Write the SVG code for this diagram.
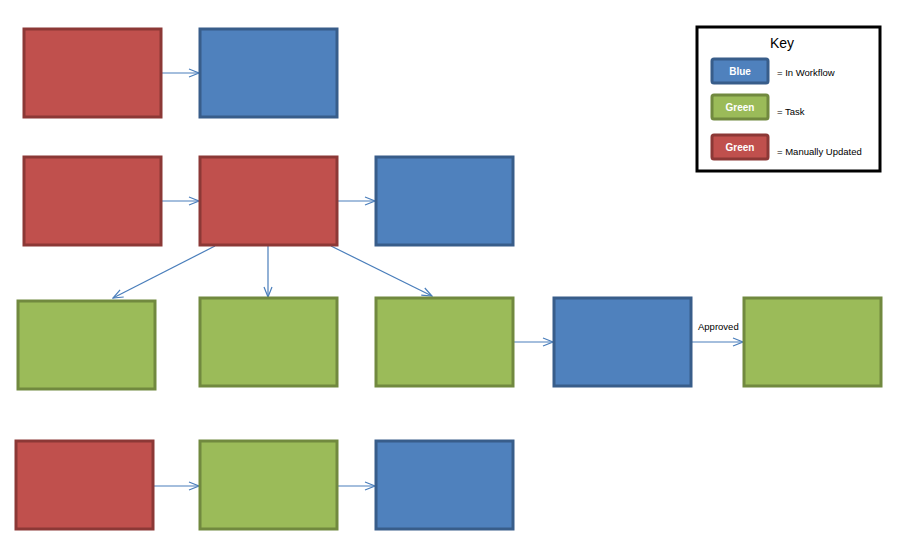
<svg xmlns="http://www.w3.org/2000/svg" width="914" height="558" viewBox="0 0 914 558">
<style>
.r{fill:#c0504d;stroke:#8c3836;stroke-width:3}
.b{fill:#4f81bd;stroke:#385d8a;stroke-width:3}
.g{fill:#9bbb59;stroke:#71893f;stroke-width:3}
.c{stroke:#4a7ebb;stroke-width:1.2;fill:none;marker-end:url(#a)}
text{font-family:"Liberation Sans",Arial,sans-serif}
.k{fill:#fff;font-size:10px;font-weight:bold;text-anchor:middle}
.t{font-size:9.5px;fill:#000}
</style>
<defs><marker id="a" markerWidth="12" markerHeight="10" refX="11" refY="5" orient="auto" markerUnits="userSpaceOnUse"><path d="M1,1 L11,5 L1,9" fill="none" stroke="#4a7ebb" stroke-width="1.2"/></marker></defs>
<rect width="914" height="558" fill="#fff"/>
<g id="connectors">
<line class="c" x1="161" y1="73" x2="199" y2="73"/>
<line class="c" x1="161" y1="201" x2="199" y2="201"/>
<line class="c" x1="337" y1="201" x2="375" y2="201"/>
<line class="c" x1="215" y1="246" x2="113" y2="298"/>
<line class="c" x1="268" y1="246" x2="268" y2="297"/>
<line class="c" x1="331" y1="246" x2="432" y2="296"/>
<line class="c" x1="513" y1="342" x2="553" y2="342"/>
<line class="c" x1="691" y1="342" x2="743" y2="342"/>
<line class="c" x1="153" y1="486" x2="199" y2="486"/>
<line class="c" x1="337" y1="486" x2="375" y2="486"/>
<text x="698" y="330" font-size="9.5">Approved</text>
</g>
<g id="n1"><rect class="r" x="24" y="29" width="137" height="88"/></g>
<g id="n2"><rect class="b" x="200" y="29" width="137" height="88"/></g>
<g id="n3"><rect class="r" x="24" y="157" width="137" height="88"/></g>
<g id="n4"><rect class="r" x="200" y="157" width="137" height="88"/></g>
<g id="n5"><rect class="b" x="376" y="157" width="137" height="88"/></g>
<g id="n6"><rect class="g" x="18" y="301" width="137" height="88"/></g>
<g id="n7"><rect class="g" x="200" y="298" width="137" height="88"/></g>
<g id="n8"><rect class="g" x="376" y="298" width="137" height="88"/></g>
<g id="n9"><rect class="b" x="554" y="298" width="137" height="88"/></g>
<g id="n10"><rect class="g" x="744" y="298" width="137" height="88"/></g>
<g id="n11"><rect class="r" x="16" y="441" width="137" height="88"/></g>
<g id="n12"><rect class="g" x="200" y="441" width="137" height="88"/></g>
<g id="n13"><rect class="b" x="376" y="441" width="137" height="88"/></g>
<g id="key">
<rect x="697" y="27" width="183" height="144" fill="#fff" stroke="#000" stroke-width="3"/>
<text x="782" y="48" font-size="14" text-anchor="middle">Key</text>
<rect class="b" x="712" y="59" width="56" height="24" rx="2" stroke-width="2"/>
<text class="k" x="740" y="75">Blue</text>
<text class="t" x="777" y="76">=  In Workflow</text>
<rect class="g" x="712" y="95" width="56" height="24" rx="2" stroke-width="2"/>
<text class="k" x="740" y="111">Green</text>
<text class="t" x="777" y="115">=  Task</text>
<rect class="r" x="712" y="135" width="56" height="24" rx="2" stroke-width="2"/>
<text class="k" x="740" y="151">Green</text>
<text class="t" x="777" y="155">=  Manually  Updated</text>
</g>
</svg>
